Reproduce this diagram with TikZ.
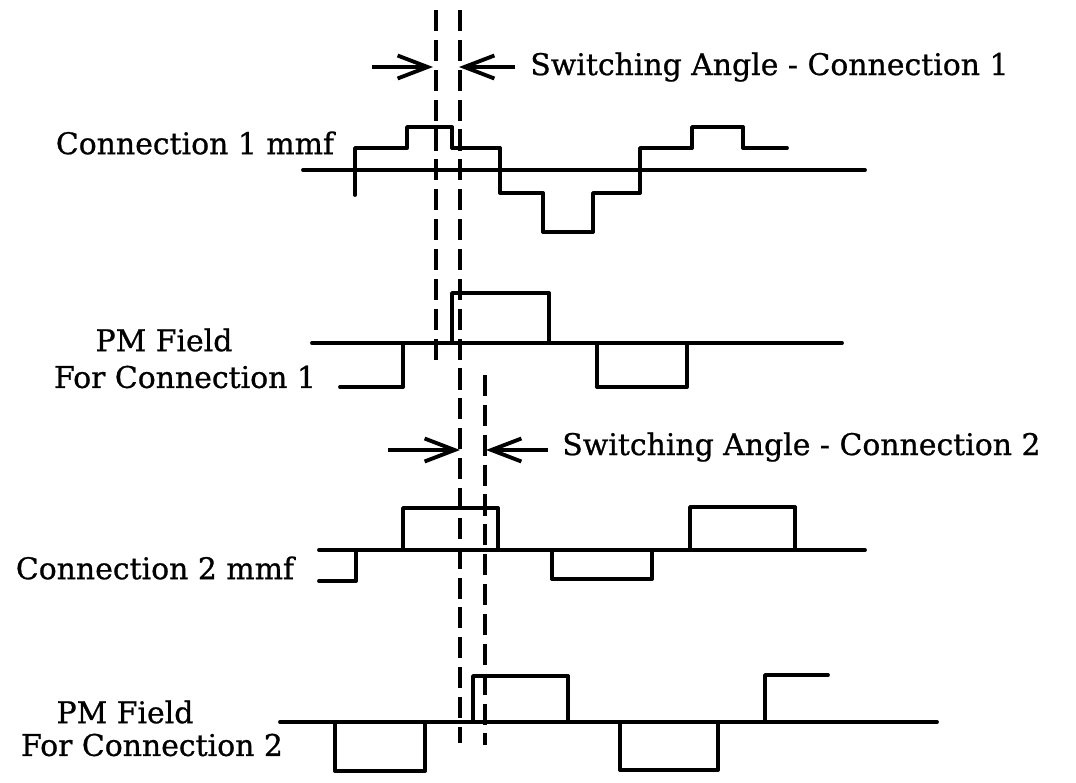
\documentclass[tikz,border=0pt]{standalone}
\usepackage{fontspec}
\setmainfont{DejaVu Serif}
\newfontfamily\lblfont{DejaVu Serif}[FakeBold=0.8]
\usetikzlibrary{arrows.meta}

\begin{document}
\begin{tikzpicture}[x=0.02cm,y=-0.02cm,>={Straight Barb[length=0.6cm,width=0.46cm]},
  wave line/.style={line width=2.2pt,line cap=round,line join=round},
  guide line/.style={line width=1.9pt,dash pattern=on 12pt off 5pt},
  angle arrow/.style={->,line width=2.2pt,shorten >=0pt},
  label node/.style={inner sep=0pt,font=\lblfont\fontsize{17}{20}\selectfont}]

            \useasboundingbox (0,0) rectangle (1076,782);

            % labels on the left
            \node[label node] (1) at (195,143) {Connection 1 mmf};
            \node[label node] (2) at (164,340) {PM Field};
            \node[label node] (3) at (185,377) {For Connection 1};
            \node[label node] (4) at (155,568) {Connection 2 mmf};
            \node[label node] (5) at (125,712) {PM Field};
            \node[label node] (6) at (152,745) {For Connection 2};

            % switching angle texts
            \node[label node, anchor=west] (7) at (530,67) {Switching Angle - Connection 1};
            \node[label node, anchor=west] (8) at (562,447) {Switching Angle - Connection 2};

            % arrow ends
            \coordinate (a1) at (372,67);
            \coordinate (b1) at (433,67);
            \coordinate (c1) at (515,67);
            \coordinate (d1) at (459,67);
            \coordinate (a2) at (388,450);
            \coordinate (b2) at (460,450);
            \coordinate (c2) at (548,450);
            \coordinate (d2) at (486,450);

            \draw[angle arrow] (a1) to (b1);
            \draw[angle arrow] (c1) to (d1);
            \draw[angle arrow] (a2) to (b2);
            \draw[angle arrow] (c2) to (d2);

            % dashed guides
            \draw[guide line] (436,10) -- (436,368);
            \draw[guide line] (460,10) -- (460,743);
            \draw[guide line] (485,375) -- (485,745);

            % connection 1 mmf
            \draw[wave line] (303,170) -- (865,170);
            \draw[wave line] (355,195) -- (355,148) -- (407,148) -- (407,127) -- (452,127) -- (452,148)
                -- (500,148) -- (500,193) -- (543,193) -- (543,232) -- (593,232) -- (593,193)
                -- (640,193) -- (640,148) -- (692,148) -- (692,127) -- (743,127) -- (743,148) -- (787,148);

            % pm field for connection 1
            \draw[wave line] (312,343) -- (842,343);
            \draw[wave line] (340,387) -- (403,387) -- (403,343);
            \draw[wave line] (452,343) -- (452,293) -- (549,293) -- (549,343);
            \draw[wave line] (597,343) -- (597,387) -- (687,387) -- (687,343);

            % connection 2 mmf
            \draw[wave line] (319,550) -- (865,550);
            \draw[wave line] (319,581) -- (356,581) -- (356,550);
            \draw[wave line] (403,550) -- (403,508) -- (498,508) -- (498,550);
            \draw[wave line] (552,550) -- (552,579) -- (652,579) -- (652,550);
            \draw[wave line] (690,550) -- (690,507) -- (795,507) -- (795,550);

            % pm field for connection 2
            \draw[wave line] (280,722) -- (937,722);
            \draw[wave line] (335,722) -- (335,771) -- (425,771) -- (425,722);
            \draw[wave line] (473,722) -- (473,676) -- (568,676) -- (568,722);
            \draw[wave line] (620,722) -- (620,770) -- (718,770) -- (718,722);
            \draw[wave line] (765,722) -- (765,675) -- (828,675);

            ;
        \end{tikzpicture}
\end{document}
